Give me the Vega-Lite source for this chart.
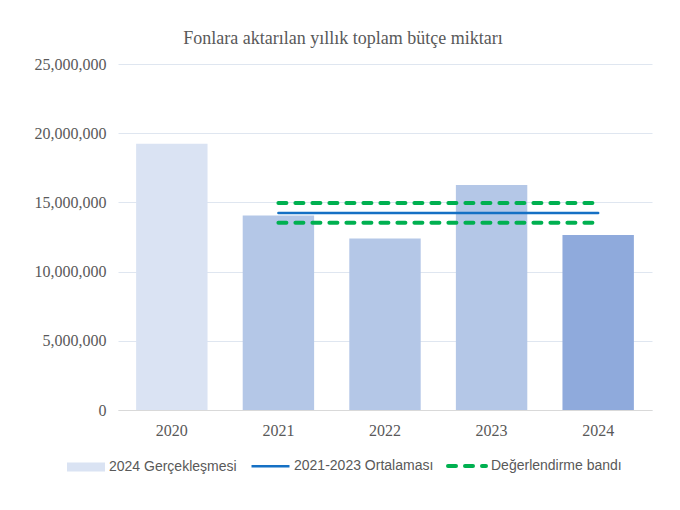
{
  "$schema": "https://vega.github.io/schema/vega-lite/v6.json",
  "width": 534,
  "height": 346,
  "padding": {"left": 34, "top": 30, "right": 10, "bottom": 10},
  "background": "white",
  "title": {
    "text": "Fonlara aktarılan yıllık toplam bütçe miktarı",
    "font": "Liberation Serif",
    "fontSize": 18,
    "fontWeight": "normal",
    "color": "#595959",
    "anchor": "middle",
    "frame": "bounds",
    "offset": 8
  },
  "datasets": {
    "bars": [
      {"year": "2020", "value": 19230000, "series": "2024 Gerçekleşmesi"},
      {"year": "2021", "value": 14050000, "series": "2024 Gerçekleşmesi"},
      {"year": "2022", "value": 12400000, "series": "2024 Gerçekleşmesi"},
      {"year": "2023", "value": 16260000, "series": "2024 Gerçekleşmesi"},
      {"year": "2024", "value": 12650000, "series": "2024 Gerçekleşmesi"}
    ],
    "lines": [
      {"year": "2021", "value": 14240000, "series": "2021-2023 Ortalaması", "line": "ortalama"},
      {"year": "2024", "value": 14240000, "series": "2021-2023 Ortalaması", "line": "ortalama"},
      {"year": "2021", "value": 14950000, "series": "Değerlendirme bandı", "line": "üst"},
      {"year": "2024", "value": 14950000, "series": "Değerlendirme bandı", "line": "üst"},
      {"year": "2021", "value": 13530000, "series": "Değerlendirme bandı", "line": "alt"},
      {"year": "2024", "value": 13530000, "series": "Değerlendirme bandı", "line": "alt"}
    ]
  },
  "layer": [
    {
      "data": {"name": "bars"},
      "mark": {"type": "bar"},
      "encoding": {
        "x": {
          "field": "year",
          "type": "ordinal",
          "scale": {"domain": ["2020", "2021", "2022", "2023", "2024"], "paddingInner": 0.33, "paddingOuter": 0.17},
          "axis": {
            "title": null,
            "labelAngle": 0,
            "ticks": false,
            "grid": false,
            "domainColor": "#d9d9d9",
            "domainWidth": 1,
            "labelFont": "Liberation Serif",
            "labelFontSize": 16,
            "labelColor": "#595959",
            "labelPadding": 12
          }
        },
        "y": {
          "field": "value",
          "type": "quantitative",
          "scale": {"domain": [0, 25000000], "nice": false},
          "axis": {
            "title": null,
            "values": [0, 5000000, 10000000, 15000000, 20000000, 25000000],
            "format": ",d",
            "domain": false,
            "ticks": false,
            "gridColor": "#dfe6f0",
            "gridWidth": 1,
            "labelFont": "Liberation Serif",
            "labelFontSize": 16,
            "labelColor": "#595959",
            "labelPadding": 12
          }
        },
        "fill": {
          "field": "series",
          "type": "nominal",
          "scale": {"domain": ["2024 Gerçekleşmesi"], "range": ["#dae3f3"]},
          "condition": [
            {"test": "datum.year === '2024'", "value": "#8faadc"},
            {"test": "datum.year !== '2020'", "value": "#b4c7e7"}
          ],
          "legend": {
            "title": null,
            "orient": "none",
            "legendX": -51,
            "legendY": 384,
            "direction": "horizontal",
            "symbolType": "M-1,-0.237H1V0.237H-1Z",
            "symbolSize": 1444,
            "symbolStrokeWidth": 0,
            "labelFont": "Liberation Sans",
            "labelFontSize": 14,
            "labelColor": "#595959",
            "labelOffset": 4
          }
        }
      }
    },
    {
      "data": {"name": "lines"},
      "mark": {"type": "line", "strokeCap": "round"},
      "encoding": {
        "x": {"field": "year", "type": "ordinal"},
        "y": {"field": "value", "type": "quantitative"},
        "detail": {"field": "line", "type": "nominal"},
        "stroke": {
          "field": "series",
          "type": "nominal",
          "scale": {"domain": ["2021-2023 Ortalaması", "Değerlendirme bandı"], "range": ["#1570c4", "#00b050"]},
          "legend": {
            "title": null,
            "orient": "none",
            "legendX": 132,
            "legendY": 381,
            "direction": "horizontal",
            "symbolType": "stroke",
            "symbolSize": 1444,
            "labelFont": "Liberation Sans",
            "labelFontSize": 14,
            "labelColor": "#595959",
            "labelOffset": 3,
            "columnPadding": 6,
            "encode": {
              "symbols": {
                "update": {
                  "strokeWidth": {"signal": "datum.value === 'Değerlendirme bandı' ? 4 : 2.5"},
                  "strokeCap": {"signal": "datum.value === 'Değerlendirme bandı' ? 'round' : 'butt'"}
                }
              }
            }
          }
        },
        "strokeDash": {
          "field": "series",
          "type": "nominal",
          "scale": {"domain": ["2021-2023 Ortalaması", "Değerlendirme bandı"], "range": [[1, 0], [8, 9]]},
          "legend": {"title": null}
        },
        "strokeWidth": {
          "field": "series",
          "type": "nominal",
          "scale": {"domain": ["2021-2023 Ortalaması", "Değerlendirme bandı"], "range": [2.5, 4]},
          "legend": null
        }
      }
    }
  ],
  "config": {
    "view": {"stroke": null}
  }
}
